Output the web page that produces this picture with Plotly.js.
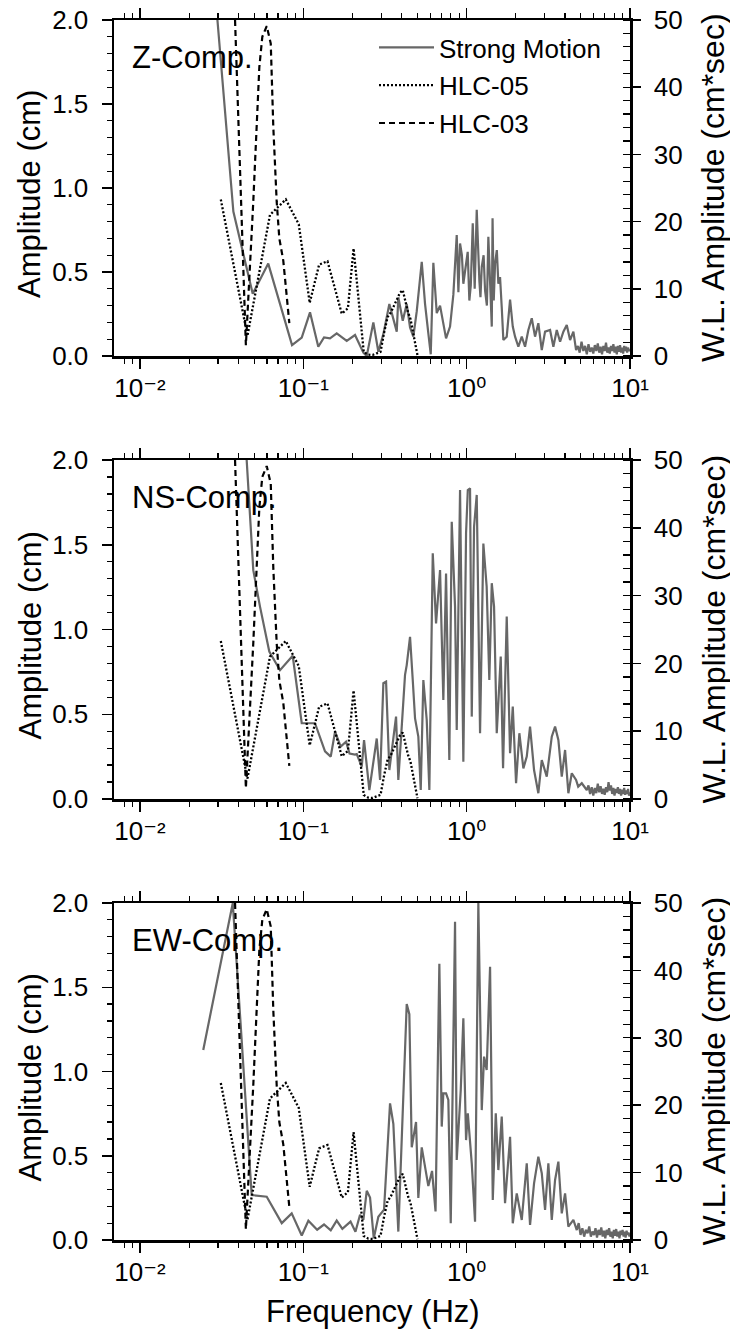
<!DOCTYPE html>
<html>
<head>
<meta charset="utf-8">
<script src="https://cdn.plot.ly/plotly-3.0.1.min.js"></script>
<style>
html,body{margin:0;padding:0;background:#fff;}
#chart{width:730px;height:1333px;}
</style>
</head>
<body>
<div id="chart"></div>
<script>
// ---------------- DATA ----------------
// HLC water-level spectra (right axis, cm*sec) — same in all three panels
const hlc05Freq = [0.03125,0.0455,0.0625,0.0781,0.0938,0.1094,0.125,0.1406,0.1563,0.1719,0.1875,0.2031,0.2188,0.2344,0.25,0.2656,0.2813,0.2969,0.3125,0.3281,0.3438,0.3594,0.375,0.3906,0.4063,0.4219,0.4375,0.4531,0.4688,0.4844,0.5];
const hlc05Amp  = [23.3,3.0,21.0,23.3,19.6,7.9,13.6,14.1,10.0,6.3,7.1,16.0,8.0,0.6,0.2,0.15,0.4,0.6,3.5,5.8,6.5,7.5,8.6,9.4,9.8,8.0,6.5,5.5,3.5,1.5,0.1];

const hlc03Freq = [0.0382,0.0445,0.0494,0.0538,0.0561,0.0597,0.0632,0.0655,0.0687,0.0713,0.0754,0.0821];
const hlc03Amp  = [50,1.6,23,43,47.5,49.1,46.5,34.1,23,17.5,14.2,4.9];

// Strong-motion spectra (left axis, cm)
const zFreq = [0.0298,0.0373,0.049,0.061,0.0853,0.0978,0.1099,0.1235,0.1339,0.1457,0.1601,0.1844,0.2073,0.2331,0.2445,0.2684,0.288,0.309,0.3363,0.3528,0.3732,0.3817,0.4062,0.4296,0.4502,0.4716,0.4947,0.5309,0.5562,0.5827,0.6028,0.6253,0.6559,0.6872,0.7139,0.7479,0.7912,0.8289,0.8694,0.89,0.9111,0.935,0.9545,0.9916,1.015,1.0387,1.06,1.0897,1.12,1.1526,1.175,1.196,1.215,1.2372,1.27,1.2962,1.33,1.3578,1.39,1.4247,1.4408,1.465,1.4925,1.53,1.5635,1.601,1.6398,1.6773,1.7592,1.844,1.9155,1.9786,2.0726,2.1744,2.278,2.3863,2.5031,2.6225,2.7471,2.8831,3.0205,3.241,3.3953,3.5612,3.732,3.9097,4.1008,4.297,4.5016,4.676,
  4.8,4.92,5.05,5.18,5.31,5.44,5.57,5.7,5.83,5.96,6.09,6.22,6.35,6.48,6.61,6.74,6.87,7.0,7.13,7.26,7.39,7.52,7.65,7.78,7.91,8.04,8.17,8.3,8.43,8.56,8.69,8.82,8.95,9.08,9.21,9.34,9.47,9.6,9.73,9.86,10.0];
const zAmp = [2.0,0.86,0.37,0.55,0.065,0.11,0.26,0.055,0.11,0.105,0.135,0.09,0.125,0.02,0.0,0.2,0.025,0.13,0.31,0.24,0.145,0.35,0.21,0.31,0.17,0.115,0.265,0.56,0.31,0.135,0.01,0.555,0.255,0.3,0.215,0.105,0.175,0.365,0.72,0.38,0.67,0.6,0.43,0.55,0.62,0.33,0.42,0.79,0.4,0.87,0.62,0.45,0.35,0.53,0.6,0.39,0.3,0.71,0.45,0.175,0.82,0.33,0.55,0.63,0.43,0.47,0.29,0.095,0.115,0.335,0.175,0.115,0.055,0.115,0.055,0.155,0.225,0.115,0.195,0.035,0.145,0.155,0.055,0.155,0.085,0.145,0.185,0.095,0.145,0.035,
  0.06,0.02,0.085,0.03,0.06,0.01,0.07,0.025,0.05,0.015,0.065,0.03,0.075,0.02,0.055,0.01,0.06,0.03,0.08,0.02,0.05,0.015,0.06,0.03,0.07,0.02,0.055,0.01,0.06,0.025,0.065,0.02,0.05,0.015,0.06,0.03,0.055,0.02,0.05,0.03,0.04];

const nsFreq = [0.045,0.0494,0.0543,0.0619,0.072,0.0861,0.0978,0.1179,0.1358,0.1472,0.1564,0.1694,0.1826,0.1919,0.2073,0.2124,0.2279,0.2354,0.2537,0.2815,0.295,0.309,0.3211,0.3363,0.3528,0.3696,0.3817,0.4005,0.4195,0.4296,0.4502,0.4677,0.4831,0.506,0.5235,0.5431,0.5696,0.591,0.6201,0.6496,0.6872,0.7199,0.7479,0.7832,0.8103,0.849,0.8694,0.9111,0.9545,0.9916,1.0164,1.049,1.0746,1.1098,1.1526,1.208,1.2655,1.3257,1.3766,1.4247,1.4715,1.5283,1.6169,1.6705,1.7592,1.844,1.9155,2.0068,2.1024,2.2241,2.3328,2.444,2.5858,2.7471,2.8831,3.0931,3.3194,3.4776,3.643,3.8222,4.0043,4.1948,4.401,4.676,4.819,5.0676,5.437,
  5.57,5.7,5.83,5.96,6.09,6.22,6.35,6.48,6.61,6.74,6.87,7.0,7.13,7.26,7.39,7.52,7.65,7.78,7.91,8.04,8.17,8.3,8.43,8.56,8.69,8.82,8.95,9.08,9.21,9.34,9.47,9.6,9.73,9.86,10.0];
const nsAmp = [2.0,1.35,1.135,0.87,0.76,0.845,0.447,0.447,0.281,0.25,0.397,0.309,0.338,0.268,0.262,0.265,0.191,0.348,0.053,0.357,0.112,0.683,0.692,0.171,0.329,0.486,0.112,0.466,0.732,0.79,0.957,0.702,0.475,0.368,0.053,0.702,0.466,0.053,1.45,1.036,1.351,0.584,1.331,0.23,1.636,1.135,0.407,1.823,0.22,1.568,1.823,1.833,0.486,1.606,1.794,0.388,1.507,1.253,0.702,1.273,1.135,0.388,0.84,0.181,1.077,0.27,0.545,0.093,0.388,0.181,0.25,0.427,0.171,0.034,0.23,0.132,0.368,0.427,0.348,0.132,0.289,0.034,0.152,0.112,0.073,0.093,0.053,
  0.08,0.03,0.07,0.02,0.065,0.035,0.09,0.04,0.075,0.03,0.06,0.025,0.07,0.04,0.1,0.05,0.08,0.03,0.065,0.02,0.06,0.035,0.07,0.03,0.06,0.02,0.055,0.03,0.065,0.025,0.05,0.03,0.06,0.02,0.04];

const ewFreq = [0.0244,0.037,0.0483,0.0597,0.0738,0.0849,0.0978,0.1074,0.1215,0.1339,0.1472,0.1601,0.1734,0.1946,0.2085,0.2225,0.2331,0.2445,0.2562,0.27,0.288,0.3121,0.3396,0.3558,0.3817,0.405,0.4296,0.4458,0.4611,0.4899,0.506,0.5309,0.5562,0.5827,0.614,0.6449,0.6805,0.7038,0.7199,0.7479,0.7724,0.799,0.849,0.8694,0.9201,0.9545,0.9916,1.0164,1.0746,1.1256,1.1791,1.2372,1.2781,1.3257,1.391,1.445,1.5074,1.5635,1.6398,1.7178,1.844,1.9155,2.0262,2.1744,2.3328,2.444,2.5858,2.7471,2.8831,3.0205,3.1641,3.3194,3.4776,3.643,3.8222,4.0043,4.1948,4.5016,4.7223,
  4.85,4.98,5.11,5.24,5.37,5.5,5.63,5.76,5.89,6.02,6.15,6.28,6.41,6.54,6.67,6.8,6.93,7.06,7.19,7.32,7.45,7.58,7.71,7.84,7.97,8.1,8.23,8.36,8.49,8.62,8.75,8.88,9.01,9.14,9.27,9.4,9.53,9.66,9.79,9.92,10.0];
const ewAmp = [1.128,2.0,0.267,0.257,0.1,0.158,0.027,0.114,0.061,0.092,0.057,0.115,0.066,0.109,0.049,0.15,0.119,0.292,0.252,0.01,0.138,0.18,0.811,0.69,0.05,0.68,1.4,1.34,0.55,0.7,0.25,0.55,0.44,0.32,0.41,0.17,1.64,0.673,0.871,0.87,0.831,0.099,1.889,0.475,0.89,1.316,0.593,0.752,0.455,0.109,2.0,0.771,1.088,1.009,1.622,0.237,0.752,0.415,0.732,0.218,0.613,0.099,0.277,0.119,0.455,0.089,0.336,0.494,0.396,0.178,0.455,0.119,0.356,0.465,0.158,0.277,0.079,0.119,0.059,
  0.1,0.03,0.07,0.02,0.06,0.04,0.08,0.02,0.05,0.03,0.07,0.015,0.06,0.03,0.075,0.02,0.055,0.01,0.06,0.03,0.07,0.02,0.05,0.01,0.06,0.025,0.065,0.02,0.05,0.01,0.055,0.03,0.06,0.02,0.05,0.015,0.055,0.03,0.045,0.02,0.04];

// Panel labels, series names, ticks
const panelLabels = ['Z-Comp.','NS-Comp.','EW-Comp.'];
const seriesNames = ['Strong Motion','HLC-05','HLC-03'];
const xTickVals = [0.01,0.1,1,10];
const xTickText = ['10\u207B\u00B2','10\u207B\u00B9','10\u2070','10\u00B9'];
const xMinorVals = [0.008,0.009,0.02,0.03,0.04,0.05,0.06,0.07,0.08,0.09,0.2,0.3,0.4,0.5,0.6,0.7,0.8,0.9,2,3,4,5,6,7,8,9];
const leftTitle = 'Amplitude (cm)';
const rightTitle = 'W.L. Amplitude (cm*sec)';
const xTitle = 'Frequency (Hz)';

// ---------------- LAYOUT ----------------
const W = 730, H = 1333;
const FONT = 'Liberation Sans, Arial, Helvetica, DejaVu Sans, sans-serif';
const plotLeft = 114, plotRight = 630;
const panels = [{top:20,bottom:356},{top:460,bottom:799},{top:903,bottom:1240}];
const smData = [[zFreq,zAmp],[nsFreq,nsAmp],[ewFreq,ewAmp]];
const fx = p => p / W;
const fy = p => 1 - p / H;

const traces = [];
const layout = {
  width: W, height: H,
  margin: {l:0, r:0, t:0, b:0},
  paper_bgcolor: '#ffffff', plot_bgcolor: '#ffffff',
  font: {family: FONT, color: '#000000', size: 26},
  hovermode: false,
  showlegend: true,
  legend: {x: fx(374), y: fy(24), xanchor: 'left', yanchor: 'top',
           bgcolor: 'rgba(0,0,0,0)', font: {family: FONT, size: 26, color: '#000'},
           tracegroupgap: 1, itemwidth: 55},
  annotations: []
};

panels.forEach((p, i) => {
  const n = i + 1;
  const xa = n === 1 ? 'x' : 'x' + n;
  const yl = 'y' + (2 * i + 1 === 1 ? '' : (2 * i + 1));
  const yr = 'y' + (2 * i + 2);
  const ylKey = 'yaxis' + (2 * i + 1 === 1 ? '' : (2 * i + 1));
  const yrKey = 'yaxis' + (2 * i + 2);
  const xKey = 'xaxis' + (n === 1 ? '' : n);
  const dom = [fy(p.bottom), fy(p.top)];

  layout[xKey] = {
    type: 'log', range: [-2.159, 1.0], domain: [fx(plotLeft), fx(plotRight)],
    anchor: yl, showline: true, linewidth: 2.5, linecolor: '#000', mirror: 'ticks',
    ticks: 'outside', ticklen: 10, tickwidth: 1.5, tickcolor: '#000',
    tickmode: 'array', tickvals: xTickVals, ticktext: xTickText, ticklabelstandoff: -3,
    tickfont: {family: FONT, size: 26, color: '#000'},
    minor: {tickmode: 'array', tickvals: xMinorVals, ticks: 'outside', ticklen: 5, tickwidth: 1.2, tickcolor: '#000'},
    showgrid: false, zeroline: false, fixedrange: true
  };
  layout[ylKey] = {
    domain: dom, range: [0, 2], anchor: xa, showline: true, linewidth: 2.5, linecolor: '#000',
    ticks: 'outside', ticklen: 10, tickwidth: 1.5, tickcolor: '#000', tick0: 0, dtick: 0.5, tickformat: '.1f',
    ticklabelstandoff: 8,
    minor: {dtick: 0.1, tick0: 0, ticks: 'outside', ticklen: 5, tickwidth: 1.2, tickcolor: '#000'},
    tickfont: {family: FONT, size: 26, color: '#000'},
    showgrid: false, zeroline: false, fixedrange: true
  };
  layout[yrKey] = {
    overlaying: yl, side: 'right', anchor: xa, range: [0, 50], showline: true, linewidth: 2.5, linecolor: '#000',
    ticks: 'outside', ticklen: 8, tickwidth: 1.5, tickcolor: '#000', tick0: 0, dtick: 10,
    ticklabelstandoff: 8,
    minor: {dtick: 2, tick0: 0, ticks: 'inside', ticklen: 7, tickwidth: 1.2, tickcolor: '#000'},
    tickfont: {family: FONT, size: 26, color: '#000'},
    showgrid: false, zeroline: false, fixedrange: true
  };

  traces.push({
    x: smData[i][0], y: smData[i][1], xaxis: xa, yaxis: yl, type: 'scatter', mode: 'lines',
    name: seriesNames[0], legendgroup: 'g0', showlegend: i === 0,
    line: {color: '#676767', width: 2.2}
  });
  traces.push({
    x: hlc05Freq, y: hlc05Amp, xaxis: xa, yaxis: yr, type: 'scatter', mode: 'lines',
    name: seriesNames[1], legendgroup: 'g1', showlegend: i === 0,
    line: {color: '#000', width: 2.3, dash: '2px,2px'}
  });
  traces.push({
    x: hlc03Freq, y: hlc03Amp, xaxis: xa, yaxis: yr, type: 'scatter', mode: 'lines',
    name: seriesNames[2], legendgroup: 'g2', showlegend: i === 0,
    line: {color: '#000', width: 2.2, dash: '6px,4px'}
  });

  const mid = (p.top + p.bottom) / 2;
  layout.annotations.push({
    xref: 'paper', yref: 'paper', x: fx(130), y: fy(p.top + 37), xanchor: 'left', yanchor: 'middle',
    text: panelLabels[i], showarrow: false, font: {family: FONT, size: 31, color: '#000'}
  });
  layout.annotations.push({
    xref: 'paper', yref: 'paper', x: fx(30), y: fy(mid + 6), xanchor: 'center', yanchor: 'middle',
    text: leftTitle, textangle: -90, showarrow: false, font: {family: FONT, size: 31, color: '#000'}
  });
  layout.annotations.push({
    xref: 'paper', yref: 'paper', x: fx(713), y: fy(mid), xanchor: 'center', yanchor: 'middle',
    text: rightTitle, textangle: -90, showarrow: false, font: {family: FONT, size: 32, color: '#000'}
  });
});

layout.annotations.push({
  xref: 'paper', yref: 'paper', x: fx(373), y: fy(1311), xanchor: 'center', yanchor: 'middle',
  text: xTitle, showarrow: false, font: {family: FONT, size: 31, color: '#000'}
});

Plotly.newPlot('chart', traces, layout, {displayModeBar: false, staticPlot: true});
</script>
</body>
</html>
